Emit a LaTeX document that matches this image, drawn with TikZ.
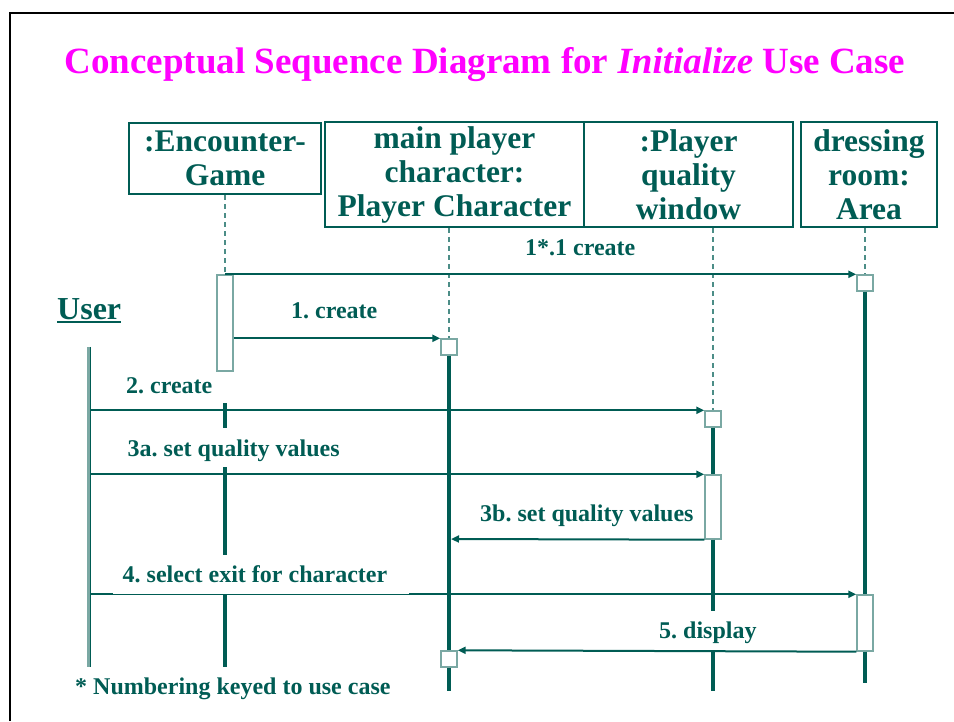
\documentclass[tikz,border=0pt]{standalone}
\usepackage{fontspec}
\setmainfont{Liberation Serif}
\usetikzlibrary{arrows.meta}

\definecolor{seqdark}{RGB}{0,92,84}
\definecolor{seqlight}{RGB}{122,168,163}
\definecolor{seqtitle}{RGB}{255,0,255}

\begin{document}
\frenchspacing
\begin{tikzpicture}[x=1pt,y=-1pt,
  hdr/.style={draw=seqdark, line width=2pt, fill=white, inner sep=0pt,
    align=center, text=seqdark, font=\fontsize{31.5}{34}\selectfont\bfseries},
  actbar/.style={draw=seqlight, line width=1.4pt, fill=white, inner sep=0pt,
    minimum width=16pt},
  cbox/.style={actbar, minimum height=16pt},
  dashlife/.style={draw=seqdark!70, line width=1.3pt, dash pattern=on 5pt off 4pt},
  life/.style={draw=seqdark, line width=4pt},
  msg/.style={draw=seqdark, line width=2pt, -{Triangle[length=8pt,width=7pt]}},
  lbl/.style={text=seqdark, inner sep=0pt, anchor=base west,
    font=\fontsize{24}{26}\selectfont\bfseries}
]
\useasboundingbox (0,0) rectangle (954,721);

% slide frame
\draw[black, line width=2.2pt] (10,721) -- (10,13) -- (954,13);

% title
\node[anchor=base, inner sep=0pt, text=seqtitle,
  font=\fontsize{37}{40}\selectfont\bfseries] (title) at (485,73)
  {Conceptual Sequence Diagram for \textit{Initialize} Use Case};

% object headers
\node[hdr, minimum width=192pt, minimum height=71pt] (enc) at (225,158.5) {:Encounter-\\Game};
\node[hdr, minimum width=259pt, minimum height=105pt] (mpc) at (454.5,174.5) {main player\\character:\\Player Character};
\node[hdr, minimum width=209pt, minimum height=105pt] (pqw) at (688.5,174.5) {:Player\\quality\\window};
\node[hdr, minimum width=136pt, minimum height=105pt] (drm) at (869,174.5) {dressing\\room:\\Area};

% actor
\node[lbl, anchor=base west, font=\fontsize{32}{34}\selectfont\bfseries] (user) at (57,319) {User};
\draw[seqdark, line width=2pt] ([yshift=-3pt]user.base west) -- ([yshift=-3pt]user.base east);
\node[fill=seqlight, inner sep=0pt, minimum width=4pt, minimum height=320pt] (userline) at (89,507) {};
\draw[seqdark, line width=1.6pt] ([xshift=-0.8pt]userline.north east) -- ([xshift=-0.8pt]userline.south east);

% activations and creation boxes
\node[actbar, minimum height=96pt] (encact) at (225,323) {};
\node[cbox] (mpbox) at (449,347) {};
\node[cbox] (mpbox2) at (449,659) {};
\node[cbox] (pqbox) at (713,419) {};
\node[actbar, minimum height=64pt] (pqact) at (713,507) {};
\node[cbox] (drbox) at (865,283) {};
\node[actbar, minimum height=56pt] (dract) at (865,623) {};

% dashed lifelines before creation
\draw[dashlife] (enc.south) -- (encact.north);
\draw[dashlife] (mpbox.north |- mpc.south) -- (mpbox.north);
\draw[dashlife] (pqbox.north |- pqw.south) -- (pqbox.north);
\draw[dashlife] (drbox.north |- drm.south) -- (drbox.north);

% solid lifelines
\draw[life] (mpbox.south) -- (mpbox2.north);
\draw[life] (mpbox2.south) -- (449,691);
\draw[life] (225,403) -- (225,428);
\draw[life] (225,467) -- (225,555);
\draw[life] (225,594) -- (225,667);
\draw[life] (pqbox.south) -- (pqact.north);
\draw[life] (pqact.south) -- (713,611);
\draw[life] (713,651) -- (713,691);
\draw[life] (drbox.south) -- (dract.north);
\draw[life] (dract.south) -- (865,683);

% messages
\draw[msg] (encact.north) -- (drbox.north west);
\draw[msg] (mpbox.north west -| encact.east) -- (mpbox.north west);
\draw[msg] (pqbox.north west -| userline.east) -- (pqbox.north west);
\draw[msg] (pqact.north west -| userline.east) -- (pqact.north west);
\draw[msg] (pqact.south west) -- (451,539);
\draw[msg] (dract.north west -| userline.east) -- (dract.north west);
\draw[msg] (dract.south west) -- (mpbox2.north east);
% label backing trims the top of the exit message line
\draw[white, line width=0.9pt] (113,593.3) -- (409,593.3);

% message labels
\node[lbl] (l11) at (525,255) {1*.1 create};
\node[lbl] (l1) at (291,318) {1. create};
\node[lbl] (l2) at (126,393) {2. create};
\node[lbl] (l3a) at (127.5,456.7) {3a. set quality values};
\node[lbl] (l3b) at (480,521) {3b. set quality values};
\node[lbl] (l4) at (122.5,582.7) {4. select exit for character};
\node[lbl] (l5) at (659,638) {5. display};
\node[lbl] (note) at (75,694.3) {* Numbering keyed to use case};
\end{tikzpicture}
\end{document}
